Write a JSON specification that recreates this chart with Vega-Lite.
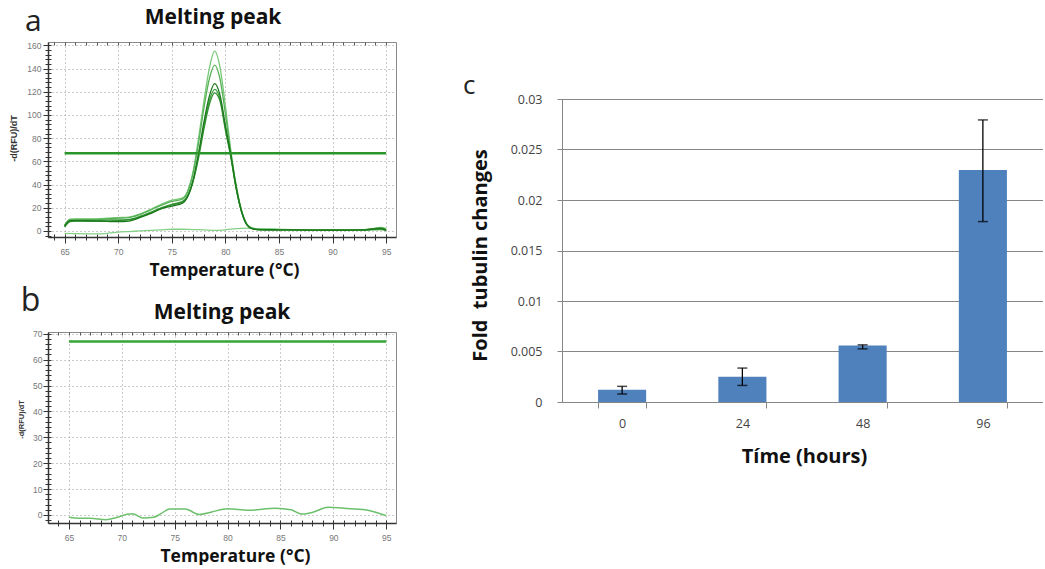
{
  "$schema": "https://vega.github.io/schema/vega-lite/v6.json",
  "padding": {"left": 8, "top": 6, "right": 0, "bottom": 0},
  "background": "white",
  "config": {"font": "Open Sans", "view": {"stroke": null}},
  "datasets": {
    "curvesA": [
      {"s":"s0","t":65,"v":-2},{"s":"s0","t":66,"v":-2.3},{"s":"s0","t":67,"v":-2.5},{"s":"s0","t":68,"v":-2.5},{"s":"s0","t":69,"v":-2},{"s":"s0","t":70,"v":-1},{"s":"s0","t":71,"v":-0.5},{"s":"s0","t":72,"v":0},{"s":"s0","t":73,"v":0.5},{"s":"s0","t":74,"v":1},{"s":"s0","t":75,"v":1.5},{"s":"s0","t":76,"v":1.5},{"s":"s0","t":77,"v":1.2},{"s":"s0","t":78,"v":1},{"s":"s0","t":79,"v":0.5},{"s":"s0","t":80,"v":1},{"s":"s0","t":81,"v":2},{"s":"s0","t":82,"v":2.5},{"s":"s0","t":83,"v":2},{"s":"s0","t":85,"v":1.5},{"s":"s0","t":88,"v":1},{"s":"s0","t":90,"v":1},{"s":"s0","t":93,"v":1},{"s":"s0","t":95,"v":1},
      {"s":"s1","t":65,"v":5},{"s":"s1","t":65.5,"v":10},{"s":"s1","t":66,"v":10.5},{"s":"s1","t":67,"v":10.5},{"s":"s1","t":68,"v":10.5},{"s":"s1","t":69,"v":11},{"s":"s1","t":70,"v":11.5},{"s":"s1","t":71,"v":12},{"s":"s1","t":72,"v":14.5},{"s":"s1","t":73,"v":18.5},{"s":"s1","t":74,"v":23},{"s":"s1","t":75,"v":26.5},{"s":"s1","t":76,"v":28.5},{"s":"s1","t":76.5,"v":35},{"s":"s1","t":77,"v":52},{"s":"s1","t":77.5,"v":80},{"s":"s1","t":78,"v":112},{"s":"s1","t":78.5,"v":140},{"s":"s1","t":79,"v":155},{"s":"s1","t":79.5,"v":141},{"s":"s1","t":80,"v":108},{"s":"s1","t":80.5,"v":70},{"s":"s1","t":81,"v":40},{"s":"s1","t":81.5,"v":18},{"s":"s1","t":82,"v":6},{"s":"s1","t":82.5,"v":2.5},{"s":"s1","t":83,"v":1.5},{"s":"s1","t":85,"v":1.2},{"s":"s1","t":88,"v":1},{"s":"s1","t":90,"v":1},{"s":"s1","t":93,"v":1.2},{"s":"s1","t":94.5,"v":3},{"s":"s1","t":95,"v":2},
      {"s":"s2","t":65,"v":5},{"s":"s2","t":65.5,"v":10},{"s":"s2","t":66,"v":10},{"s":"s2","t":67,"v":10},{"s":"s2","t":68,"v":10},{"s":"s2","t":69,"v":10.5},{"s":"s2","t":70,"v":11},{"s":"s2","t":71,"v":11.5},{"s":"s2","t":72,"v":14},{"s":"s2","t":73,"v":18},{"s":"s2","t":74,"v":22},{"s":"s2","t":75,"v":25.5},{"s":"s2","t":76,"v":27.5},{"s":"s2","t":76.5,"v":34},{"s":"s2","t":77,"v":50},{"s":"s2","t":77.5,"v":76},{"s":"s2","t":78,"v":106},{"s":"s2","t":78.5,"v":131},{"s":"s2","t":79,"v":143},{"s":"s2","t":79.5,"v":131},{"s":"s2","t":80,"v":101},{"s":"s2","t":80.5,"v":68},{"s":"s2","t":81,"v":39},{"s":"s2","t":81.5,"v":18},{"s":"s2","t":82,"v":6},{"s":"s2","t":82.5,"v":2.5},{"s":"s2","t":83,"v":1.5},{"s":"s2","t":85,"v":1.2},{"s":"s2","t":88,"v":1},{"s":"s2","t":90,"v":1},{"s":"s2","t":93,"v":1.2},{"s":"s2","t":94.5,"v":2.5},{"s":"s2","t":95,"v":1.5},
      {"s":"s4","t":65,"v":4},{"s":"s4","t":65.5,"v":8.5},{"s":"s4","t":66,"v":9},{"s":"s4","t":67,"v":9},{"s":"s4","t":68,"v":9},{"s":"s4","t":69,"v":9.5},{"s":"s4","t":70,"v":9.5},{"s":"s4","t":71,"v":10},{"s":"s4","t":72,"v":12.5},{"s":"s4","t":73,"v":16},{"s":"s4","t":74,"v":20},{"s":"s4","t":75,"v":23},{"s":"s4","t":76,"v":25.5},{"s":"s4","t":76.5,"v":31},{"s":"s4","t":77,"v":44},{"s":"s4","t":77.5,"v":66},{"s":"s4","t":78,"v":91},{"s":"s4","t":78.5,"v":112},{"s":"s4","t":79,"v":122},{"s":"s4","t":79.5,"v":114},{"s":"s4","t":80,"v":89},{"s":"s4","t":80.5,"v":65},{"s":"s4","t":81,"v":37},{"s":"s4","t":81.5,"v":17},{"s":"s4","t":82,"v":5.5},{"s":"s4","t":82.5,"v":2},{"s":"s4","t":83,"v":1.2},{"s":"s4","t":85,"v":1},{"s":"s4","t":88,"v":0.8},{"s":"s4","t":90,"v":0.7},{"s":"s4","t":93,"v":1},{"s":"s4","t":94.5,"v":1.5},{"s":"s4","t":95,"v":0.5},
      {"s":"s5","t":65,"v":3.5},{"s":"s5","t":65.5,"v":8},{"s":"s5","t":66,"v":8.5},{"s":"s5","t":67,"v":8.5},{"s":"s5","t":68,"v":8.5},{"s":"s5","t":69,"v":8.5},{"s":"s5","t":70,"v":9},{"s":"s5","t":71,"v":9.5},{"s":"s5","t":72,"v":12},{"s":"s5","t":73,"v":15.5},{"s":"s5","t":74,"v":19.5},{"s":"s5","t":75,"v":22.5},{"s":"s5","t":76,"v":25},{"s":"s5","t":76.5,"v":30},{"s":"s5","t":77,"v":43},{"s":"s5","t":77.5,"v":63},{"s":"s5","t":78,"v":88},{"s":"s5","t":78.5,"v":109},{"s":"s5","t":79,"v":119},{"s":"s5","t":79.5,"v":112},{"s":"s5","t":80,"v":87},{"s":"s5","t":80.5,"v":64},{"s":"s5","t":81,"v":37},{"s":"s5","t":81.5,"v":17},{"s":"s5","t":82,"v":5.5},{"s":"s5","t":82.5,"v":2},{"s":"s5","t":83,"v":1.2},{"s":"s5","t":85,"v":1},{"s":"s5","t":88,"v":0.8},{"s":"s5","t":90,"v":0.7},{"s":"s5","t":93,"v":1},{"s":"s5","t":94.5,"v":2.5},{"s":"s5","t":95,"v":1},
      {"s":"s3","t":65,"v":4},{"s":"s3","t":65.5,"v":9},{"s":"s3","t":66,"v":9},{"s":"s3","t":67,"v":8.8},{"s":"s3","t":68,"v":8.5},{"s":"s3","t":69,"v":8.2},{"s":"s3","t":70,"v":8},{"s":"s3","t":71,"v":8.5},{"s":"s3","t":72,"v":11.5},{"s":"s3","t":73,"v":15},{"s":"s3","t":74,"v":19},{"s":"s3","t":75,"v":21.5},{"s":"s3","t":76,"v":24},{"s":"s3","t":76.5,"v":30},{"s":"s3","t":77,"v":44},{"s":"s3","t":77.5,"v":67},{"s":"s3","t":78,"v":94},{"s":"s3","t":78.5,"v":116},{"s":"s3","t":79,"v":127},{"s":"s3","t":79.5,"v":117},{"s":"s3","t":80,"v":91},{"s":"s3","t":80.5,"v":66},{"s":"s3","t":81,"v":38},{"s":"s3","t":81.5,"v":17},{"s":"s3","t":82,"v":5.5},{"s":"s3","t":82.5,"v":2},{"s":"s3","t":83,"v":1.2},{"s":"s3","t":85,"v":1},{"s":"s3","t":88,"v":0.8},{"s":"s3","t":90,"v":0.6},{"s":"s3","t":93,"v":1},{"s":"s3","t":94.5,"v":2},{"s":"s3","t":95,"v":0.5}
    ],
    "curveB": [
      {"t":65,"v":-0.9},{"t":66,"v":-1.3},{"t":67,"v":-1.3},{"t":68.5,"v":-1.8},{"t":69.5,"v":-1},{"t":70.5,"v":0.3},{"t":71,"v":0.5},{"t":72,"v":-1.2},{"t":73,"v":-0.9},{"t":73.7,"v":0.5},{"t":74.5,"v":2.3},{"t":76,"v":2.3},{"t":77.3,"v":0.2},{"t":78.5,"v":1.2},{"t":80,"v":2.4},{"t":82,"v":1.8},{"t":84.5,"v":2.6},{"t":86,"v":2},{"t":87,"v":0.4},{"t":88,"v":1},{"t":89.5,"v":3},{"t":91,"v":2.6},{"t":93,"v":2},{"t":95,"v":-0.3}
    ],
    "bars": [
      {"time":"0","value":0.00122,"lo":0.00079,"hi":0.00155},
      {"time":"24","value":0.0025,"lo":0.00164,"hi":0.00336},
      {"time":"48","value":0.00559,"lo":0.00526,"hi":0.00566},
      {"time":"96","value":0.02296,"lo":0.01786,"hi":0.02793}
    ]
  },
  "bounds": "flush",
  "spacing": 514,
  "hconcat": [
    {
      "bounds": "flush",
      "spacing": 95,
      "vconcat": [
        {
          "width": 348,
          "height": 195,
          "view": {"stroke": "#8a8a8a", "strokeWidth": 1},
          "title": {"text": "Melting peak", "font": "Open Sans", "fontSize": 21, "fontWeight": "bold", "color": "#111111", "anchor": "middle", "frame": "group", "baseline": "alphabetic", "offset": -38, "dx": -9},
          "resolve": {"axis": {"x": "independent", "y": "independent"}},
          "layer": [
            {
              "data": {"name": "curvesA"},
              "mark": {"type": "line", "interpolate": "monotone", "strokeWidth": 1.3, "clip": true},
              "encoding": {
                "x": {"field": "t", "type": "quantitative",
                  "scale": {"domain": [63.45, 95.92], "nice": false, "zero": false},
                  "axis": {"orient": "bottom", "values": [65,70,75,80,85,90,95], "title": "Temperature (°C)", "titleFont": "Open Sans", "titleFontSize": 17.5, "titleFontWeight": "bold", "titleColor": "#111111", "titleX": 176, "titleY": 38, "titleBaseline": "alphabetic", "labelFont": "Liberation Sans", "labelFontSize": 8.5, "labelColor": "#777777", "labelPadding": 4, "labelFlush": false, "labelOverlap": false, "tickSize": 6, "tickColor": "#333333", "domain": true, "domainColor": "#333333", "domainWidth": 1.5, "grid": true, "gridDash": [1,3], "gridColor": "#999999"}},
                "y": {"field": "v", "type": "quantitative",
                  "scale": {"domain": [-5.2, 162.9], "nice": false, "zero": false},
                  "axis": {"orient": "left", "values": [0,20,40,60,80,100,120,140,160], "title": "-d(RFU)/dT", "titleFont": "Liberation Sans", "titleFontSize": 9, "titleFontWeight": "bold", "titleColor": "#333333", "titleX": -35, "titleY": 96, "titleBaseline": "middle", "labelFont": "Liberation Sans", "labelFontSize": 8.5, "labelColor": "#777777", "labelPadding": 2, "labelFlush": false, "labelOverlap": false, "tickSize": 5, "tickColor": "#333333", "domain": true, "domainColor": "#333333", "domainWidth": 1.5, "grid": true, "gridDash": [1,3], "gridColor": "#999999"}},
                "color": {"field": "s", "type": "nominal",
                  "scale": {"domain": ["s0","s1","s2","s4","s5","s3"], "range": ["#86cf86","#78c878","#56b056","#43a343","#2e8f2e","#1c781c"]},
                  "legend": null}
              }
            },
            {
              "data": {"values": [{"t": 65, "t2": 95, "v": 67}]},
              "mark": {"type": "rule", "color": "#2a962a", "strokeWidth": 2.5},
              "encoding": {
                "x": {"field": "t", "type": "quantitative",
                  "axis": {"orient": "bottom", "values": [64,65,66,67,68,69,70,71,72,73,74,75,76,77,78,79,80,81,82,83,84,85,86,87,88,89,90,91,92,93,94,95], "offset": -3, "tickSize": 6, "tickColor": "#333333", "labels": false, "domain": false, "grid": false, "title": null}},
                "x2": {"field": "t2"},
                "y": {"field": "v", "type": "quantitative",
                  "axis": {"orient": "left", "values": [-4,0,4,8,12,16,20,24,28,32,36,40,44,48,52,56,60,64,68,72,76,80,84,88,92,96,100,104,108,112,116,120,124,128,132,136,140,144,148,152,156,160], "offset": -3, "tickSize": 6, "tickColor": "#333333", "labels": false, "domain": false, "grid": false, "title": null}}
              }
            },
            {
              "data": {"values": [{"t": 62.09, "v": 172, "label": "a"}]},
              "mark": {"type": "text", "font": "Open Sans", "fontSize": 30, "align": "center", "baseline": "alphabetic", "color": "#222222"},
              "encoding": {
                "x": {"field": "t", "type": "quantitative",
                  "axis": {"orient": "top", "values": [64,65,66,67,68,69,70,71,72,73,74,75,76,77,78,79,80,81,82,83,84,85,86,87,88,89,90,91,92,93,94,95], "offset": -3, "tickSize": 3, "tickColor": "#555555", "labels": false, "domain": false, "grid": false, "title": null}},
                "y": {"field": "v", "type": "quantitative", "axis": null},
                "text": {"field": "label"}
              }
            }
          ]
        },
        {
          "width": 348,
          "height": 191,
          "view": {"stroke": "#8a8a8a", "strokeWidth": 1},
          "title": {"text": "Melting peak", "font": "Open Sans", "fontSize": 21, "fontWeight": "bold", "color": "#111111", "anchor": "middle", "frame": "group", "baseline": "alphabetic", "offset": -55},
          "resolve": {"axis": {"x": "independent", "y": "independent"}},
          "layer": [
            {
              "data": {"name": "curveB"},
              "mark": {"type": "line", "interpolate": "monotone", "strokeWidth": 1.5, "color": "#6cc06c", "clip": true},
              "encoding": {
                "x": {"field": "t", "type": "quantitative",
                  "scale": {"domain": [63.02, 95.92], "nice": false, "zero": false},
                  "axis": {"orient": "bottom", "values": [65,70,75,80,85,90,95], "title": "Temperature (°C)", "titleFont": "Open Sans", "titleFontSize": 17.5, "titleFontWeight": "bold", "titleColor": "#111111", "titleX": 187, "titleY": 38, "titleBaseline": "alphabetic", "labelFont": "Liberation Sans", "labelFontSize": 8.5, "labelColor": "#777777", "labelPadding": 4, "labelFlush": false, "labelOverlap": false, "tickSize": 6, "tickColor": "#333333", "domain": true, "domainColor": "#333333", "domainWidth": 1.5, "grid": true, "gridDash": [1,3], "gridColor": "#999999"}},
                "y": {"field": "v", "type": "quantitative",
                  "scale": {"domain": [-3.09, 70.66], "nice": false, "zero": false},
                  "axis": {"orient": "left", "values": [0,10,20,30,40,50,60,70], "title": "-d(RFU)/dT", "titleFont": "Liberation Sans", "titleFontSize": 7.5, "titleFontWeight": "bold", "titleColor": "#333333", "titleX": -27, "titleY": 87, "titleBaseline": "middle", "labelFont": "Liberation Sans", "labelFontSize": 8.5, "labelColor": "#777777", "labelPadding": 1, "labelFlush": false, "labelOverlap": false, "tickSize": 5, "tickColor": "#333333", "domain": true, "domainColor": "#333333", "domainWidth": 1.5, "grid": true, "gridDash": [1,3], "gridColor": "#999999"}}
              }
            },
            {
              "data": {"values": [{"t": 65, "t2": 95, "v": 67}]},
              "mark": {"type": "rule", "color": "#36a636", "strokeWidth": 2.5},
              "encoding": {
                "x": {"field": "t", "type": "quantitative",
                  "axis": {"orient": "bottom", "values": [64,65,66,67,68,69,70,71,72,73,74,75,76,77,78,79,80,81,82,83,84,85,86,87,88,89,90,91,92,93,94,95], "offset": -3, "tickSize": 6, "tickColor": "#333333", "labels": false, "domain": false, "grid": false, "title": null}},
                "x2": {"field": "t2"},
                "y": {"field": "v", "type": "quantitative",
                  "axis": {"orient": "left", "values": [-2,0,2,4,6,8,10,12,14,16,18,20,22,24,26,28,30,32,34,36,38,40,42,44,46,48,50,52,54,56,58,60,62,64,66,68,70], "offset": -3, "tickSize": 6, "tickColor": "#333333", "labels": false, "domain": false, "grid": false, "title": null}}
              }
            },
            {
              "data": {"values": [{"t": 61.37, "v": 78.6, "label": "b"}]},
              "mark": {"type": "text", "font": "Open Sans", "fontSize": 32, "align": "center", "baseline": "alphabetic", "color": "#222222"},
              "encoding": {
                "x": {"field": "t", "type": "quantitative",
                  "axis": {"orient": "top", "values": [64,65,66,67,68,69,70,71,72,73,74,75,76,77,78,79,80,81,82,83,84,85,86,87,88,89,90,91,92,93,94,95], "offset": -3, "tickSize": 3, "tickColor": "#555555", "labels": false, "domain": false, "grid": false, "title": null}},
                "y": {"field": "v", "type": "quantitative", "axis": null},
                "text": {"field": "label"}
              }
            }
          ]
        }
      ]
    },
    {
      "bounds": "flush",
      "spacing": 56,
      "vconcat": [
        {
          "width": 10,
          "height": 1,
          "data": {"values": [{"e": ""}]},
          "mark": {"type": "text"},
          "encoding": {"text": {"field": "e"}}
        },
        {
          "width": 481,
          "height": 303,
          "title": {"text": "c", "font": "Open Sans", "fontSize": 26, "fontWeight": "normal", "color": "#222222", "anchor": "start", "frame": "group", "baseline": "alphabetic", "offset": -27, "dx": -99},
          "data": {"name": "bars"},
          "layer": [
            {
              "mark": {"type": "bar", "color": "#4F81BD"},
              "encoding": {
                "x": {"field": "time", "type": "ordinal", "sort": null,
                  "scale": {"paddingInner": 0.6, "paddingOuter": 0.3},
                  "axis": {"title": "Tíme (hours)", "titleFont": "Open Sans", "titleFontSize": 20, "titleFontWeight": "bold", "titleColor": "#111111", "titleX": 242, "titleY": 60, "titleBaseline": "alphabetic", "labelFont": "Open Sans", "labelFontSize": 12.5, "labelColor": "#444444", "labelAngle": 0, "labelPadding": 9, "tickBand": "extent", "tickSize": 6, "tickColor": "#868686", "domainColor": "#868686", "grid": false}},
                "y": {"field": "value", "type": "quantitative",
                  "scale": {"domain": [0, 0.03], "nice": false},
                  "axis": {"values": [0,0.005,0.01,0.015,0.02,0.025,0.03], "format": "~g", "title": "Fold\u00a0 tubulin changes", "titleFont": "Open Sans", "titleFontSize": 20, "titleFontWeight": "bold", "titleColor": "#111111", "titleX": -82, "titleY": 156, "titleBaseline": "middle", "labelFont": "Open Sans", "labelFontSize": 12.5, "labelColor": "#444444", "labelPadding": 15, "labelOverlap": false, "tickSize": 5, "tickColor": "#868686", "domainColor": "#868686", "grid": true, "gridColor": "#868686", "gridWidth": 1}}
              }
            },
            {
              "mark": {"type": "rule", "color": "#000000", "strokeWidth": 1.3},
              "encoding": {
                "x": {"field": "time", "type": "ordinal", "sort": null},
                "y": {"field": "lo", "type": "quantitative"},
                "y2": {"field": "hi"}
              }
            },
            {
              "mark": {"type": "tick", "color": "#000000", "thickness": 1.5, "size": 10},
              "encoding": {
                "x": {"field": "time", "type": "ordinal", "sort": null},
                "y": {"field": "lo", "type": "quantitative"}
              }
            },
            {
              "mark": {"type": "tick", "color": "#000000", "thickness": 1.5, "size": 10},
              "encoding": {
                "x": {"field": "time", "type": "ordinal", "sort": null},
                "y": {"field": "hi", "type": "quantitative"}
              }
            }
          ]
        }
      ]
    }
  ]
}
